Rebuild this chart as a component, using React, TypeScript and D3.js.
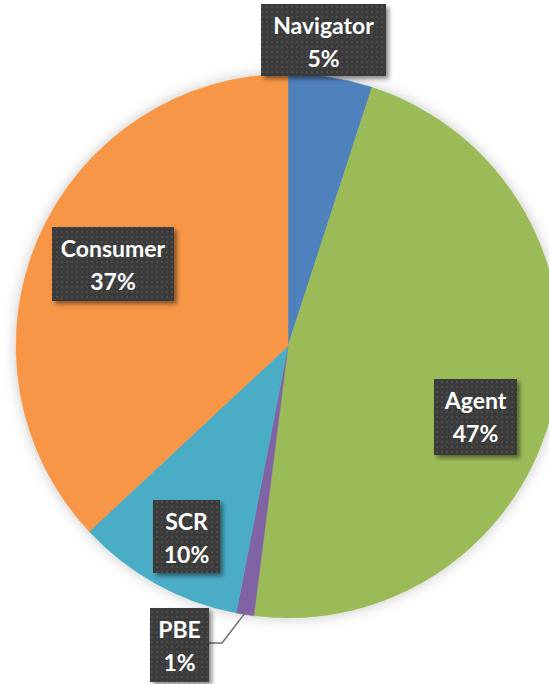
import React from "react";
import * as d3 from "d3";

const categories = ["Navigator", "Agent", "PBE", "SCR", "Consumer"];
const values = [5, 47, 1.05, 10, 36.95];
const percentLabels = ["5%", "47%", "1%", "10%", "37%"];
const colors = ["#4F81BD", "#9BBB59", "#8064A2", "#4BACC6", "#F79646"];

// label box layout (x, y, w, h)
const labelBoxes = [
  [261, 4, 125, 72],
  [434, 379, 83, 76],
  [150, 608, 59, 74],
  [153, 500, 67, 73],
  [52, 227, 122, 74],
];

const W = 549;
const H = 684;
const cx = 288;
const cy = 346;
const R = 272;

export default function App() {
  const pie = d3.pie<number>().sort(null).value((d) => d).startAngle(0).endAngle(2 * Math.PI);
  const arcs = pie(values);
  const arcGen = d3.arc<d3.PieArcDatum<number>>().innerRadius(0).outerRadius(R);

  // PBE leader line
  const pbe = arcs[2];
  const mid = (pbe.startAngle + pbe.endAngle) / 2;
  const lx = cx + Math.sin(mid) * (R - 2);
  const ly = cy - Math.cos(mid) * (R - 2);
  const pb = labelBoxes[2];
  const leader = `M${lx},${ly} L${pb[0] + pb[2] + 13},${pb[1] + 35} L${pb[0] + pb[2]},${pb[1] + 35}`;

  return (
    <svg width={W} height={H} style={{ position: "absolute", left: 0, top: 0, background: "#fff" }}>
      <defs>
        <filter id="pieShadow" x="-20%" y="-20%" width="140%" height="140%">
          <feDropShadow dx="0" dy="0" stdDeviation="7" floodColor="#000" floodOpacity="0.22" />
        </filter>
        <filter id="boxShadow" x="-20%" y="-20%" width="150%" height="150%">
          <feDropShadow dx="3" dy="3" stdDeviation="2" floodColor="#000" floodOpacity="0.45" />
        </filter>
        <pattern id="dots" width="5" height="5" patternUnits="userSpaceOnUse">
          <rect width="5" height="5" fill="#3b3b3b" />
          <rect x="1" y="1" width="2" height="2" fill="#4e4e4e" />
        </pattern>
      </defs>
      <g transform={`translate(${cx},${cy})`} filter="url(#pieShadow)">
        {arcs.map((a, i) => (
          <path key={categories[i]} d={arcGen(a) || ""} fill={colors[i]} stroke={colors[i]} strokeWidth={0.5} />
        ))}
      </g>
      <path d={leader} fill="none" stroke="#6e6e6e" strokeWidth={1.5} />
      {categories.map((c, i) => {
        const [x, y, w, h] = labelBoxes[i];
        const tx = x + w / 2;
        return (
          <g key={c}>
            <rect x={x} y={y} width={w} height={h} fill="url(#dots)" filter="url(#boxShadow)" />
            <text
              x={tx}
              y={y + 30}
              textAnchor="middle"
              fill="#fff"
              fontFamily="Lato, 'Open Sans', sans-serif"
              fontWeight="bold"
              fontSize={23}
            >
              {c}
            </text>
            <text
              x={tx}
              y={y + 63}
              textAnchor="middle"
              fill="#fff"
              fontFamily="Lato, 'Open Sans', sans-serif"
              fontWeight="bold"
              fontSize={23}
            >
              {percentLabels[i]}
            </text>
          </g>
        );
      })}
    </svg>
  );
}
